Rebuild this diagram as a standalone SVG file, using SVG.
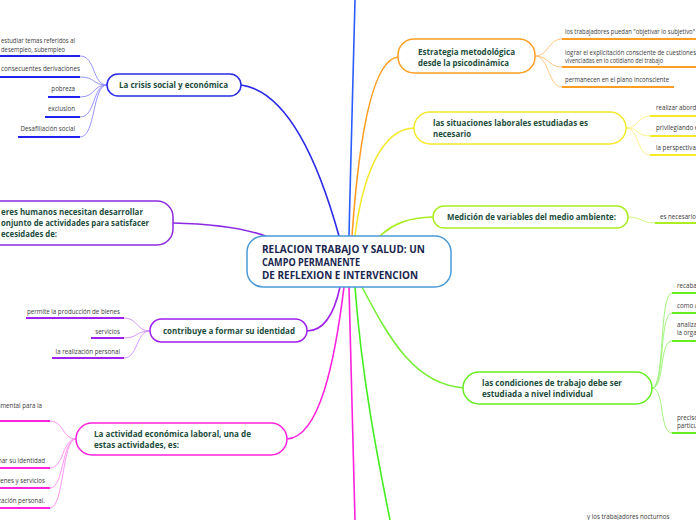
<svg xmlns="http://www.w3.org/2000/svg" width="696" height="520" viewBox="0 0 696 520">
<style>
.node{fill:#fff;stroke-width:1.5}
.t{font-family:"Open Sans","Noto Sans",sans-serif;font-weight:bold;font-size:8.6px;fill:#1c4d3c}
.c{font-family:"Open Sans","Noto Sans",sans-serif;font-weight:bold;font-size:10.5px;fill:#1a2650}
.s{font-family:"Open Sans","Noto Sans",sans-serif;font-size:6.2px;fill:#3a3a3a}
.e{text-anchor:end}
.main{fill:none;stroke-width:1.6}
.sub{fill:none;stroke-width:0.9}
.ul{fill:none;stroke-width:2}
</style>
<rect width="696" height="520" fill="#fff"/>
<g id="connectors">
  <path class="main" stroke="#2a2ae8" d="M339 236 C322 175 292 92 241 85"/>
  <path class="main" stroke="#2a5cff" d="M349 236 C351 150 353 60 355 0"/>
  <path class="main" stroke="#ff9e22" d="M352 236 C358 150 370 60 398 57"/>
  <path class="main" stroke="#f5e92a" d="M355 236 C362 180 380 128 415 128"/>
  <path class="main" stroke="#aaee22" d="M380 236 C395 222 410 218 433 217"/>
  <path class="main" stroke="#8a2be2" d="M173 223 C215 224 245 228 268 237"/>
  <path class="main" stroke="#a020f0" d="M340 287 C335 310 325 331 307 331"/>
  <path class="main" stroke="#ff22dd" d="M344 287 C335 360 320 437 287 439"/>
  <path class="main" stroke="#ff22dd" d="M349 287 C351 370 353 450 355 520"/>
  <path class="main" stroke="#44ee22" d="M355 287 C362 380 378 460 390 520"/>
  <path class="main" stroke="#77ee33" d="M362 287 C390 340 415 385 465 388"/>
  <g stroke="#8a8aff" class="sub">
    <path d="M107 85 C92 85 96 56 80 56"/>
    <path d="M107 85 C92 85 96 77 80 77"/>
    <path d="M107 85 C92 85 96 97 80 97"/>
    <path d="M107 85 C92 85 96 117 80 117"/>
    <path d="M107 85 C92 85 96 137 80 137"/>
  </g>
  <g stroke="#2222ee" class="ul">
    <path d="M0 56 H80"/><path d="M0 77 H80"/><path d="M48 97 H80"/><path d="M45 117 H80"/><path d="M18 137 H80"/>
  </g>
  <g stroke="#d08aff" class="sub">
    <path d="M150 331 C136 331 138 318 124 318"/>
    <path d="M150 331 C136 331 138 338 124 338"/>
    <path d="M150 331 C136 331 138 358 124 358"/>
  </g>
  <g stroke="#a020f0" class="ul">
    <path d="M26 318 H124"/><path d="M91 338 H124"/><path d="M52 358 H124"/>
  </g>
  <g stroke="#ff8aee" class="sub">
    <path d="M76 439 C62 439 64 421 50 421"/>
    <path d="M76 439 C62 439 64 468 50 468"/>
    <path d="M76 439 C62 439 64 488 50 488"/>
    <path d="M76 439 C62 439 64 508 50 508"/>
  </g>
  <g stroke="#ff22dd" class="ul">
    <path d="M0 421 H50"/><path d="M0 468 H50"/><path d="M0 488 H50"/><path d="M0 508 H50"/>
  </g>
  <g stroke="#ffc070" class="sub">
    <path d="M535 56 C549 56 548 39 562 39"/>
    <path d="M535 56 C549 56 548 67 562 67"/>
    <path d="M535 56 C549 56 548 87 562 87"/>
  </g>
  <g stroke="#ff9e22" class="ul">
    <path d="M562 39 H696"/><path d="M562 67 H696"/><path d="M562 87 H674"/>
  </g>
  <g stroke="#f8f080" class="sub">
    <path d="M626 128 C639 128 637 116 650 116"/>
    <path d="M626 128 C639 128 637 136 650 136"/>
    <path d="M626 128 C639 128 637 155 650 155"/>
  </g>
  <g stroke="#f5e92a" class="ul">
    <path d="M650 116 H696"/><path d="M650 136 H696"/><path d="M650 155 H696"/>
  </g>
  <path class="sub" stroke="#ccf570" d="M628 217 C642 217 641 223 655 223"/>
  <path class="ul" stroke="#aaee22" d="M655 223 H696"/>
  <g stroke="#99f070" class="sub">
    <path d="M652 388 C665 388 659 293 672 293"/>
    <path d="M652 388 C665 388 659 313 672 313"/>
    <path d="M652 388 C665 388 659 341 672 341"/>
    <path d="M652 388 C665 388 659 433 672 433"/>
  </g>
  <g stroke="#66ee22" class="ul">
    <path d="M672 293 H696"/><path d="M672 313 H696"/><path d="M672 341 H696"/><path d="M672 433 H696"/>
  </g>
</g>

<g id="central">
  <rect class="node" x="247" y="236" width="204" height="51" rx="16" stroke="#4a9ad8"/>
  <text class="c" x="262" y="253" textLength="163" lengthAdjust="spacingAndGlyphs">RELACION TRABAJO Y SALUD: UN</text>
  <text class="c" x="262" y="266" textLength="98" lengthAdjust="spacingAndGlyphs">CAMPO PERMANENTE</text>
  <text class="c" x="262" y="279" textLength="156" lengthAdjust="spacingAndGlyphs">DE REFLEXION E INTERVENCION</text>
</g>

<g id="crisis">
  <rect class="node" x="107" y="74" width="134" height="22" rx="11" stroke="#2a2ae8"/>
  <text class="t" x="119" y="88" textLength="109" lengthAdjust="spacingAndGlyphs">La crisis social y económica</text>
</g>
<g id="crisis-1"><text class="s" x="1" y="43" textLength="74" lengthAdjust="spacingAndGlyphs">estudiar temas referidos al</text><text class="s" x="1" y="51.5" textLength="64" lengthAdjust="spacingAndGlyphs">desempleo, subempleo</text></g>
<g id="crisis-2"><text class="s" x="1" y="71" textLength="79" lengthAdjust="spacingAndGlyphs">consecuentes derivaciones</text></g>
<g id="crisis-3"><text class="s e" x="75" y="91">pobreza</text></g>
<g id="crisis-4"><text class="s e" x="75" y="111">exclusion</text></g>
<g id="crisis-5"><text class="s e" x="75" y="131">Desafiliación social</text></g>

<g id="seres">
  <rect class="node" x="-20" y="201" width="193" height="44" rx="16" stroke="#8a2be2"/>
  <text class="t" x="1" y="215" textLength="142" lengthAdjust="spacingAndGlyphs">eres humanos necesitan desarrollar</text>
  <text class="t" x="1" y="226" textLength="148" lengthAdjust="spacingAndGlyphs">onjunto de actividades para satisfacer</text>
  <text class="t" x="1" y="237" textLength="56" lengthAdjust="spacingAndGlyphs">ecesidades de:</text>
</g>

<g id="contribuye">
  <rect class="node" x="150" y="319" width="157" height="23" rx="11.5" stroke="#a020f0"/>
  <text class="t" x="163" y="334" textLength="132" lengthAdjust="spacingAndGlyphs">contribuye a formar su identidad</text>
</g>
<g id="contribuye-1"><text class="s e" x="120" y="314">permite la producción de bienes</text></g>
<g id="contribuye-2"><text class="s e" x="120" y="334">servicios</text></g>
<g id="contribuye-3"><text class="s e" x="120" y="354">la realización personal</text></g>

<g id="actividad">
  <rect class="node" x="76" y="423" width="211" height="32" rx="16" stroke="#ff22dd"/>
  <text class="t" x="94" y="437" textLength="157" lengthAdjust="spacingAndGlyphs">La actividad económica laboral, una de</text>
  <text class="t" x="94" y="448" textLength="85" lengthAdjust="spacingAndGlyphs">estas actividades, es:</text>
</g>
<g id="actividad-1"><text class="s e" x="42" y="408">amental para la</text></g>
<g id="actividad-2"><text class="s e" x="45" y="463">mar su identidad</text></g>
<g id="actividad-3"><text class="s e" x="45" y="483">ienes y servicios</text></g>
<g id="actividad-4"><text class="s e" x="45" y="503">ización personal.</text></g>

<g id="estrategia">
  <rect class="node" x="398" y="39" width="137" height="34" rx="16" stroke="#ff9e22"/>
  <text class="t" x="418" y="55" textLength="97" lengthAdjust="spacingAndGlyphs">Estrategia metodológica</text>
  <text class="t" x="418" y="66" textLength="91" lengthAdjust="spacingAndGlyphs">desde la psicodinámica</text>
</g>
<g id="estrategia-1"><text class="s" x="565" y="34" textLength="130" lengthAdjust="spacingAndGlyphs">los trabajadores puedan "objetivar lo subjetivo"</text></g>
<g id="estrategia-2"><text class="s" x="565" y="55" textLength="131" lengthAdjust="spacingAndGlyphs">lograr el explicitación consciente de cuestiones</text><text class="s" x="565" y="63" textLength="98" lengthAdjust="spacingAndGlyphs">vivenciadas en lo cotidiano del trabajo</text></g>
<g id="estrategia-3"><text class="s" x="565" y="82" textLength="104" lengthAdjust="spacingAndGlyphs">permanecen en el plano inconsciente</text></g>

<g id="situaciones">
  <rect class="node" x="414" y="112" width="212" height="32" rx="16" stroke="#f5e92a"/>
  <text class="t" x="433" y="126" textLength="155" lengthAdjust="spacingAndGlyphs">las situaciones laborales estudiadas es</text>
  <text class="t" x="433" y="137" textLength="38" lengthAdjust="spacingAndGlyphs">necesario</text>
</g>
<g id="situaciones-1"><text class="s" x="656" y="110">realizar abord</text></g>
<g id="situaciones-2"><text class="s" x="656" y="130">privilegiando e</text></g>
<g id="situaciones-3"><text class="s" x="656" y="150">la perspectiva</text></g>

<g id="medicion">
  <rect class="node" x="433" y="206" width="195" height="22" rx="11" stroke="#aaee22"/>
  <text class="t" x="447" y="220" textLength="169" lengthAdjust="spacingAndGlyphs">Medición de variables del medio ambiente:</text>
</g>
<g id="medicion-1"><text class="s" x="660" y="219">es necesario</text></g>

<g id="condiciones">
  <rect class="node" x="463" y="372" width="189" height="32" rx="16" stroke="#66ee22"/>
  <text class="t" x="482" y="386" textLength="140" lengthAdjust="spacingAndGlyphs">las condiciones de trabajo debe ser</text>
  <text class="t" x="482" y="397" textLength="111" lengthAdjust="spacingAndGlyphs">estudiada a nivel individual</text>
</g>
<g id="condiciones-1"><text class="s" x="677" y="288">recaba</text></g>
<g id="condiciones-2"><text class="s" x="677" y="308">como a</text></g>
<g id="condiciones-3"><text class="s" x="677" y="327">analiza</text><text class="s" x="677" y="335">la orga</text></g>
<g id="condiciones-4"><text class="s" x="677" y="420">preciso</text><text class="s" x="677" y="428">particu</text></g>

<g id="nocturnos"><text class="s" x="587" y="519">y los trabajadores nocturnos</text></g>
</svg>
